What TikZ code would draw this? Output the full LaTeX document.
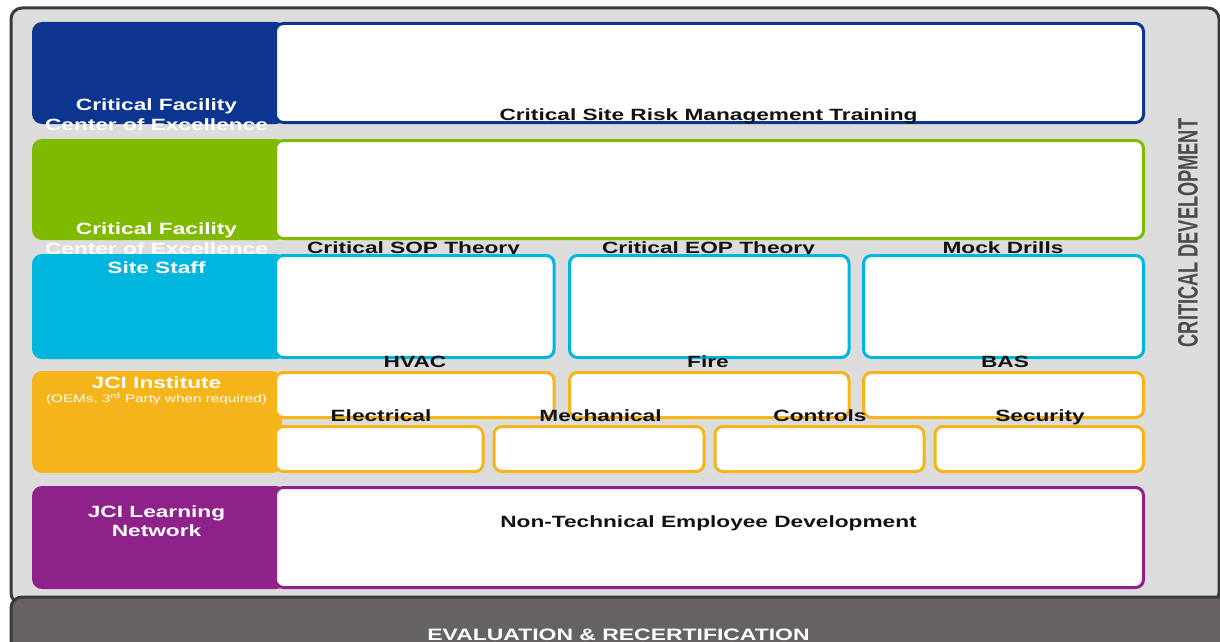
\documentclass[tikz,border=0pt]{standalone}
\usepackage{fontspec}
\setmainfont{Liberation Sans}
\usepackage{graphicx}

\definecolor{panelgray}{HTML}{DCDCDC}
\definecolor{frame}{HTML}{3A3A3A}
\definecolor{barfill}{HTML}{656164}
\definecolor{cblue}{HTML}{0B358E}
\definecolor{cgreen}{HTML}{7FBA00}
\definecolor{ccyan}{HTML}{00B6DE}
\definecolor{corange}{HTML}{F5B51A}
\definecolor{cpurple}{HTML}{8E228A}
\definecolor{sidetext}{HTML}{4A4A4A}

% wide lettering used throughout
\newcommand{\wtxt}[1]{\scalebox{1.39}[1]{#1}}

\begin{document}
\begin{tikzpicture}[x=1pt,y=-1pt,
  lbl/.style={anchor=base, inner sep=0pt, text=black!93,
    font=\bfseries\fontsize{16.3}{18}\selectfont},
  wlbl/.style={lbl, text=white},
  small/.style={anchor=base, inner sep=0pt, text=white,
    font=\fontsize{11}{12}\selectfont},
  block/.style={rounded corners=10pt},
  panel/.style={rounded corners=8pt, fill=white, line width=3pt},
]
\clip (0,0) rectangle (1220,642);

% outer frame and bottom bar
\draw[fill=panelgray, draw=frame, line width=3pt, rounded corners=11pt]
  (11,8) rectangle (1219,604);
\draw[fill=barfill, draw=frame, line width=3pt, rounded corners=11pt]
  (11,597) rectangle (1232,660);
\node[anchor=base, inner sep=0pt, text=white, font=\bfseries\fontsize{16.5}{18}\selectfont]
  (evalrecert) at (618.5,640.5) {\wtxt{EVALUATION \& RECERTIFICATION}};

% side caption
\node[inner sep=0pt, text=sidetext, font=\bfseries\fontsize{28}{30}\selectfont]
  (critdev) at (1188,233) {\rotatebox{90}{\scalebox{0.65}[1]{CRITICAL DEVELOPMENT}}};

% row 1 : critical site risk management
\fill[cblue, block] (32,22) rectangle (286,124);
\draw[panel, draw=cblue] (275.5,23.5) rectangle (1143.5,122.5);
\node[wlbl] (r1a) at (156.5,110) {\wtxt{Critical Facility}};
\node[wlbl] (r1b) at (156.5,130) {\wtxt{Center of Excellence}};
\node[lbl] (r1t) at (708.5,120) {\wtxt{Critical Site Risk Management Training}};

% row 2 : critical facility theory
\fill[cgreen, block] (32,139) rectangle (286,240);
\draw[panel, draw=cgreen] (275.5,140.5) rectangle (1143.5,238.5);
\node[wlbl] (r2a) at (156.5,234) {\wtxt{Critical Facility}};
\node[wlbl] (r2b) at (156.5,254) {\wtxt{Center of Excellence}};
\node[lbl] (sop) at (413.5,253) {\wtxt{Critical SOP Theory}};
\node[lbl] (eop) at (708.5,253) {\wtxt{Critical EOP Theory}};
\node[lbl] (mock) at (1003,253) {\wtxt{Mock Drills}};

% row 3 : site staff
\fill[ccyan, block] (32,254) rectangle (286,359);
\draw[panel, draw=ccyan] (275.5,255.5) rectangle (554,357.5);
\draw[panel, draw=ccyan] (569.5,255.5) rectangle (849,357.5);
\draw[panel, draw=ccyan] (863.5,255.5) rectangle (1143.5,357.5);
\node[wlbl] (sitestaff) at (156.5,273) {\wtxt{Site Staff}};
\node[lbl] (hvac) at (415,367) {\wtxt{HVAC}};
\node[lbl] (fire) at (708,367) {\wtxt{Fire}};
\node[lbl] (bas) at (1005,367) {\wtxt{BAS}};

% row 4 : JCI institute
\fill[corange, block] (32,371) rectangle (282,473);
\draw[panel, draw=corange] (275.5,372.5) rectangle (554,417.5);
\draw[panel, draw=corange] (569.5,372.5) rectangle (849,417.5);
\draw[panel, draw=corange] (863.5,372.5) rectangle (1143.5,417.5);
\draw[panel, draw=corange] (275.5,426.5) rectangle (483,471.5);
\draw[panel, draw=corange] (494,426.5) rectangle (704,471.5);
\draw[panel, draw=corange] (715,426.5) rectangle (924,471.5);
\draw[panel, draw=corange] (935,426.5) rectangle (1143.5,471.5);
\node[wlbl] (jciinst) at (156.5,388) {\wtxt{JCI Institute}};
\node[small] (oems) at (156.5,402) {\wtxt{(OEMs, 3\textsuperscript{rd} Party when required)}};
\node[lbl] (elec) at (381,421) {\wtxt{Electrical}};
\node[lbl] (mech) at (600.5,421) {\wtxt{Mechanical}};
\node[lbl] (ctrl) at (820,421) {\wtxt{Controls}};
\node[lbl] (secu) at (1040,421) {\wtxt{Security}};

% row 5 : JCI learning network
\fill[cpurple, block] (32,486) rectangle (286,589);
\draw[panel, draw=cpurple] (275.5,487.5) rectangle (1143.5,587.5);
\node[wlbl] (jcilearn) at (156.5,517) {\wtxt{JCI Learning}};
\node[wlbl] (network) at (156.5,536) {\wtxt{Network}};
\node[lbl] (nontech) at (708.5,527) {\wtxt{Non-Technical Employee Development}};
\end{tikzpicture}
\end{document}
